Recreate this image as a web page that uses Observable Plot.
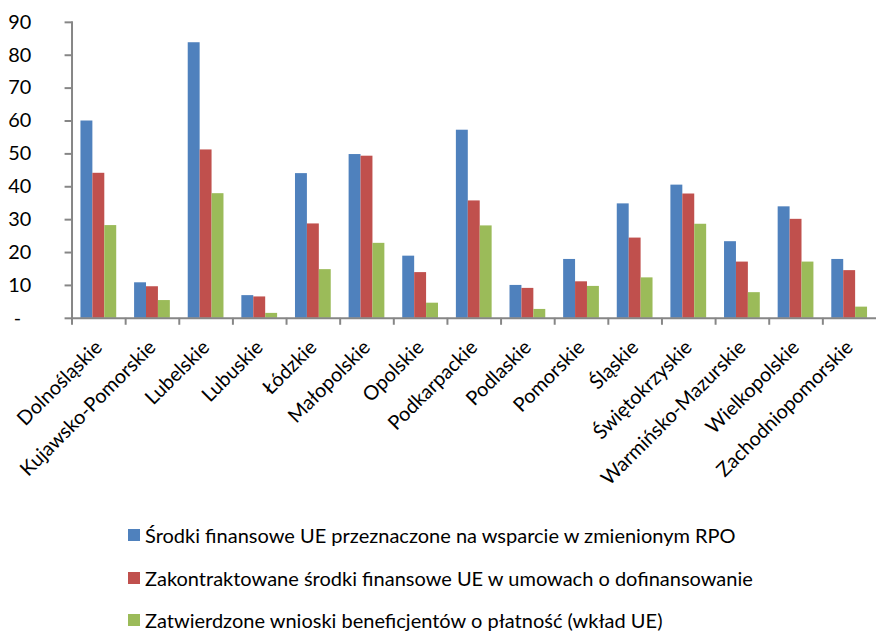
<!DOCTYPE html>
<html>
<head>
<meta charset="utf-8">
<script src="https://cdn.jsdelivr.net/npm/d3@7"></script>
<script src="https://cdn.jsdelivr.net/npm/@observablehq/plot@0.6"></script>
<style>
  html, body { margin: 0; padding: 0; background: white; overflow: hidden; }
  #wrap { position: relative; width: 876px; height: 631px; overflow: hidden; font-family: Lato, "Open Sans", sans-serif; }
  #legend { position: absolute; left: 128px; top: 514px; font-size: 20px; color: #000; }
  .row { display: flex; align-items: center; height: 42.5px; }
  .sw { width: 12px; height: 12px; margin-right: 5px; flex: none; }
</style>
</head>
<body>
<div id="wrap"><div id="chart"></div><div id="legend"></div></div>
<script>
const regions = ["Dolnośląskie","Kujawsko-Pomorskie","Lubelskie","Lubuskie","Łódzkie","Małopolskie","Opolskie","Podkarpackie","Podlaskie","Pomorskie","Śląskie","Świętokrzyskie","Warmińsko-Mazurskie","Wielkopolskie","Zachodniopomorskie"];
const srodki = [60.0, 10.8, 83.8, 6.9, 44.0, 49.8, 18.9, 57.2, 10.0, 17.9, 34.8, 40.5, 23.3, 33.9, 17.9];
const zakontraktowane = [44.1, 9.6, 51.2, 6.5, 28.7, 49.3, 13.9, 35.7, 9.1, 11.1, 24.4, 37.8, 17.1, 30.1, 14.5];
const zatwierdzone = [28.2, 5.4, 37.9, 1.5, 14.8, 22.8, 4.6, 28.1, 2.7, 9.7, 12.3, 28.6, 7.8, 17.1, 3.4];
const seriesNames = [
  "Środki finansowe UE przeznaczone na wsparcie w zmienionym RPO",
  "Zakontraktowane środki finansowe UE w umowach o dofinansowanie",
  "Zatwierdzone wnioski beneficjentów o płatność (wkład UE)"
];
const seriesColors = ["#4F81BD", "#C0504D", "#9BBB59"];
const yTicks = [0, 10, 20, 30, 40, 50, 60, 70, 80, 90];

const seriesValues = [srodki, zakontraktowane, zatwierdzone];
const insets = [[9, 33], [21, 21], [33, 9]];
const axisGray = "#868686";

const barMarks = seriesValues.map((vals, i) =>
  Plot.barY(regions.map((r, j) => ({region: r, value: vals[j]})), {
    x: "region", y: "value", fill: seriesColors[i],
    insetLeft: insets[i][0], insetRight: insets[i][1]
  })
);

const chart = Plot.plot({
  width: 882,
  height: 510,
  marginLeft: 72,
  marginRight: 0,
  marginTop: 22,
  marginBottom: 190,
  style: {fontFamily: "Lato, 'Open Sans', sans-serif", fontSize: "20px", color: "#000", background: "white"},
  x: {type: "band", domain: regions, padding: 0, label: null},
  y: {domain: [0, 90], label: null},
  marks: [
    ...barMarks,
    Plot.axisY({ticks: yTicks, tickSize: 7, tickPadding: 34, stroke: axisGray, strokeWidth: 2,
      tickFormat: d => d === 0 ? "-  " : String(d), fill: "#000", label: null}),
    Plot.axisX({ticks: regions, tickSize: 7, tickFormat: () => "", dx: -27, stroke: axisGray, strokeWidth: 2, label: null}),
    Plot.axisX({ticks: regions, tickSize: 0, tickPadding: 26, tickRotate: -45, textAnchor: "end", fill: "#000", label: null}),
    Plot.ruleY([0], {stroke: axisGray, strokeWidth: 2}),
    Plot.frame({anchor: "left", stroke: axisGray, strokeWidth: 2})
  ]
});
document.getElementById("chart").appendChild(chart);

const legend = document.getElementById("legend");
seriesNames.forEach((name, i) => {
  const row = document.createElement("div");
  row.className = "row";
  const sw = document.createElement("span");
  sw.className = "sw";
  sw.style.background = seriesColors[i];
  const t = document.createElement("span");
  t.textContent = name;
  row.appendChild(sw);
  row.appendChild(t);
  legend.appendChild(row);
});
</script>
</body>
</html>
